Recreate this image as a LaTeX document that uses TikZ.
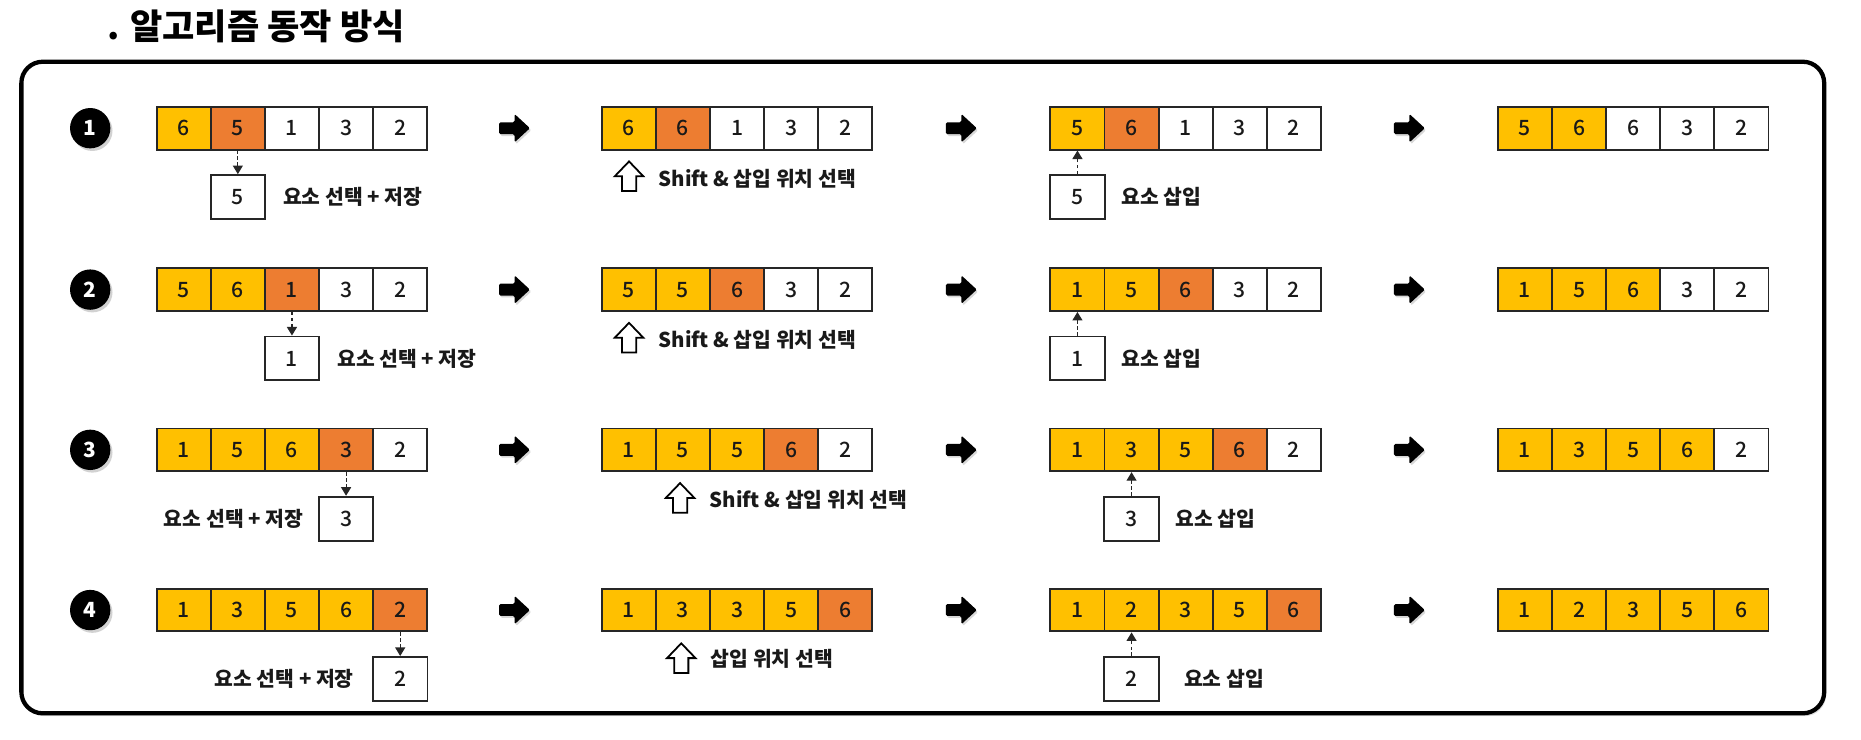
\documentclass[tikz,border=0pt]{standalone}
\usepackage{fontspec}
\setmainfont{Noto Sans CJK KR}
\newfontfamily\krmed{Noto Sans CJK KR Medium}
\usetikzlibrary{shadows,calc,arrows.meta}
\definecolor{cY}{HTML}{FFC000}
\definecolor{cO}{HTML}{ED7D31}
\definecolor{cW}{HTML}{FFFFFF}
\newcommand\myarr[4]{%
  \foreach \v/\c [count=\i] in {#4} {
    \node[cell, fill=\c] (#1-\i) at ({#2+(\i-0.5)*45.6}, {#3+18}) {\v};
  }}
\tikzset{
  cell/.style={draw=black!85, line width=0.8pt, minimum width=22.8pt, minimum height=18pt,
    inner sep=0pt, font=\krmed\fontsize{8.9}{10}\selectfont, text=black!90},
  tmpbox/.style={cell, fill=white, minimum width=23pt, minimum height=18.5pt},
  lbl/.style={font=\bfseries\fontsize{8.6}{10}\selectfont, inner sep=0pt, text=black!90},
  ttl/.style={font=\bfseries\fontsize{14.8}{17}\selectfont, inner sep=0pt},
  numc/.style={circle, fill=black, text=white, minimum size=17pt, inner sep=0pt,
    font=\bfseries\fontsize{8.8}{10}\selectfont,
    drop shadow={shadow xshift=0.9pt, shadow yshift=-1.1pt, opacity=0.35}},
  dasharr/.style={-{Triangle[width=4.2pt,length=3.6pt]}, dash pattern=on 1.5pt off 1pt,
    line width=0.5pt, draw=black!85},
  frame/.style={line width=1.8pt, rounded corners=9pt, fill=white,
    drop shadow={shadow xshift=0.8pt, shadow yshift=-1.2pt, opacity=0.25}},
  blkarr/.pic={\fill[black, rounded corners=0.6pt, drop shadow={shadow xshift=0.6pt, shadow yshift=-0.8pt, opacity=0.3}]
     (-13,-5) -- (0,-5) -- (0,-12) -- (13,0) -- (0,12) -- (0,5) -- (-13,5) -- cycle;},
  hollowup/.pic={\draw[fill=white, line width=0.75pt, line join=miter]
     (0,0) -- (12,12.5) -- (6,12.5) -- (6,25) -- (-6,25) -- (-6,12.5) -- (-12,12.5) -- cycle;}
}
\begin{document}
\begin{tikzpicture}[x=0.5pt, y=-0.5pt]
\useasboundingbox (0,0) rectangle (1568,623);
\fill[white] (0,0) rectangle (1568,623);
\node[ttl, anchor=west] (title) at (90,22) {. 알고리즘 동작 방식};
\draw[frame] (18,52) rectangle (1537,601);

% ---------- row 1 ----------
\node[numc] (n1) at (76,108) {1};
\myarr{A1}{132}{90}{6/cY,5/cO,1/cW,3/cW,2/cW}
\myarr{B1}{507}{90}{6/cY,6/cO,1/cW,3/cW,2/cW}
\myarr{C1}{885}{90}{5/cY,6/cO,1/cW,3/cW,2/cW}
\myarr{D1}{1262}{90}{5/cY,6/cY,6/cW,3/cW,2/cW}
\node[tmpbox] (b1) at ($(A1-2)+(0,58)$) {5};
\draw[dasharr] (A1-2.south) -- (b1.north);
\node[lbl, anchor=west] (la1) at ([xshift=7pt]b1.east) {요소 선택 + 저장};
\pic at (530,136) {hollowup};
\node[lbl, anchor=west] (ls1) at (554.5,150.5) {Shift \& 삽입 위치 선택};
\node[tmpbox] (c1) at ($(C1-1)+(0,58)$) {5};
\draw[dasharr] (c1.north) -- (C1-1.south);
\node[lbl, anchor=west] (lc1) at ([xshift=6.5pt]c1.east) {요소 삽입};
\pic at ($(A1-5.east)!0.5!(B1-1.west)$) {blkarr};
\pic at ($(B1-5.east)!0.5!(C1-1.west)$) {blkarr};
\pic at ($(C1-5.east)!0.5!(D1-1.west)$) {blkarr};

% ---------- row 2 ----------
\node[numc] (n2) at (76,244) {2};
\myarr{A2}{132}{226}{5/cY,6/cY,1/cO,3/cW,2/cW}
\myarr{B2}{507}{226}{5/cY,5/cY,6/cO,3/cW,2/cW}
\myarr{C2}{885}{226}{1/cY,5/cY,6/cO,3/cW,2/cW}
\myarr{D2}{1262}{226}{1/cY,5/cY,6/cY,3/cW,2/cW}
\node[tmpbox] (b2) at ($(A2-3)+(0,58)$) {1};
\draw[dasharr] (A2-3.south) -- (b2.north);
\node[lbl, anchor=west] (la2) at ([xshift=7pt]b2.east) {요소 선택 + 저장};
\pic at (530,272) {hollowup};
\node[lbl, anchor=west] (ls2) at (554.5,286.5) {Shift \& 삽입 위치 선택};
\node[tmpbox] (c2) at ($(C2-1)+(0,58)$) {1};
\draw[dasharr] (c2.north) -- (C2-1.south);
\node[lbl, anchor=west] (lc2) at ([xshift=6.5pt]c2.east) {요소 삽입};
\pic at ($(A2-5.east)!0.5!(B2-1.west)$) {blkarr};
\pic at ($(B2-5.east)!0.5!(C2-1.west)$) {blkarr};
\pic at ($(C2-5.east)!0.5!(D2-1.west)$) {blkarr};

% ---------- row 3 ----------
\node[numc] (n3) at (76,379) {3};
\myarr{A3}{132}{361}{1/cY,5/cY,6/cY,3/cO,2/cW}
\myarr{B3}{507}{361}{1/cY,5/cY,5/cY,6/cO,2/cW}
\myarr{C3}{885}{361}{1/cY,3/cY,5/cY,6/cO,2/cW}
\myarr{D3}{1262}{361}{1/cY,3/cY,5/cY,6/cY,2/cW}
\node[tmpbox] (b3) at ($(A3-4)+(0,58)$) {3};
\draw[dasharr] (A3-4.south) -- (b3.north);
\node[lbl, anchor=east] (la3) at ([xshift=-6pt]b3.west) {요소 선택 + 저장};
\pic at (573,407) {hollowup};
\node[lbl, anchor=west] (ls3) at (597.5,421.5) {Shift \& 삽입 위치 선택};
\node[tmpbox] (c3) at ($(C3-2)+(0,58)$) {3};
\draw[dasharr] (c3.north) -- (C3-2.south);
\node[lbl, anchor=west] (lc3) at ([xshift=6.5pt]c3.east) {요소 삽입};
\pic at ($(A3-5.east)!0.5!(B3-1.west)$) {blkarr};
\pic at ($(B3-5.east)!0.5!(C3-1.west)$) {blkarr};
\pic at ($(C3-5.east)!0.5!(D3-1.west)$) {blkarr};

% ---------- row 4 ----------
\node[numc] (n4) at (76,514) {4};
\myarr{A4}{132}{496}{1/cY,3/cY,5/cY,6/cY,2/cO}
\myarr{B4}{507}{496}{1/cY,3/cY,3/cY,5/cY,6/cO}
\myarr{C4}{885}{496}{1/cY,2/cY,3/cY,5/cY,6/cO}
\myarr{D4}{1262}{496}{1/cY,2/cY,3/cY,5/cY,6/cY}
\node[tmpbox] (b4) at ($(A4-5)+(0,58)$) {2};
\draw[dasharr] (A4-5.south) -- (b4.north);
\node[lbl, anchor=east] (la4) at ([xshift=-7.5pt]b4.west) {요소 선택 + 저장};
\pic at (574,542) {hollowup};
\node[lbl, anchor=west] (ls4) at (598.5,555.5) {삽입 위치 선택};
\node[tmpbox] (c4) at ($(C4-2)+(0,58)$) {2};
\draw[dasharr] (c4.north) -- (C4-2.south);
\node[lbl, anchor=west] (lc4) at ([xshift=10pt]c4.east) {요소 삽입};
\pic at ($(A4-5.east)!0.5!(B4-1.west)$) {blkarr};
\pic at ($(B4-5.east)!0.5!(C4-1.west)$) {blkarr};
\pic at ($(C4-5.east)!0.5!(D4-1.west)$) {blkarr};
\end{tikzpicture}
\end{document}
